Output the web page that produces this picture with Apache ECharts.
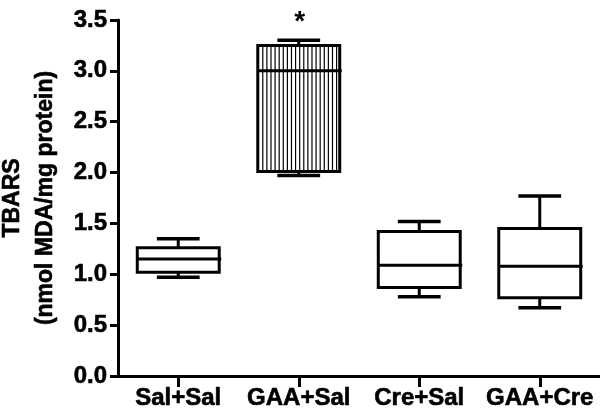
<!DOCTYPE html>
<html><head><meta charset="utf-8">
<script src="https://cdn.jsdelivr.net/npm/echarts@6/dist/echarts.min.js"></script>
<style>html,body{margin:0;padding:0;background:#fff}#c{width:600px;height:413px}</style>
</head><body><div id="c"></div>
<script>
const categories = ['Sal+Sal', 'GAA+Sal', 'Cre+Sal', 'GAA+Cre'];
const whiskerLow = [0.97, 1.97, 0.78, 0.67];
const q1 = [1.02, 2.01, 0.87, 0.77];
const median = [1.15, 3.00, 1.09, 1.08];
const q3 = [1.26, 3.25, 1.42, 1.45];
const whiskerHigh = [1.35, 3.30, 1.52, 1.77];
const hatched = [false, true, false, false];
const marks = ['', '*', '', ''];
const yMin = 0, yMax = 3.5, yStep = 0.5;
const yTitle = 'TBARS';
const yUnit = '(nmol MDA/mg protein)';

const FONT = "'Liberation Sans', Arial, sans-serif";
const chart = echarts.init(document.getElementById('c'), null, {renderer: 'canvas'});

const data = categories.map((c, i) => [i, whiskerLow[i], q1[i], median[i], q3[i], whiskerHigh[i]]);

function renderItem(params, api) {
  const i = api.value(0);
  const x = api.coord([i, 0])[0];
  const yLo = api.coord([i, api.value(1)])[1];
  const yQ1 = api.coord([i, api.value(2)])[1];
  const yMed = api.coord([i, api.value(3)])[1];
  const yQ3 = api.coord([i, api.value(4)])[1];
  const yHi = api.coord([i, api.value(5)])[1];
  const band = api.size([1, 0])[0];
  const bw = band * 0.68;
  const cw = band * 0.355;
  const l = x - bw / 2, r = x + bw / 2;
  const lw = 3;
  const ls = {stroke: '#000', lineWidth: lw};
  const children = [];
  children.push({type: 'rect', shape: {x: l, y: yQ3, width: bw, height: yQ1 - yQ3}, style: {fill: '#fff'}});
  if (hatched[i]) {
    const step = 4.1;
    for (let hx = l + 5; hx < r - 2; hx += step) {
      children.push({type: 'line', shape: {x1: hx, y1: yQ3, x2: hx, y2: yQ1}, style: {stroke: '#000', lineWidth: 1.2}});
    }
  }
  children.push({type: 'rect', shape: {x: l, y: yQ3, width: bw, height: yQ1 - yQ3}, style: {fill: 'none', stroke: '#000', lineWidth: lw}});
  children.push({type: 'line', shape: {x1: l, y1: yMed, x2: r + 2, y2: yMed}, style: ls});
  children.push({type: 'line', shape: {x1: x, y1: yQ3, x2: x, y2: yHi}, style: ls});
  children.push({type: 'line', shape: {x1: x, y1: yQ1, x2: x, y2: yLo}, style: ls});
  children.push({type: 'line', shape: {x1: x - cw / 2, y1: yHi, x2: x + cw / 2, y2: yHi}, style: {stroke: '#000', lineWidth: 3.5}});
  children.push({type: 'line', shape: {x1: x - cw / 2, y1: yLo, x2: x + cw / 2, y2: yLo}, style: {stroke: '#000', lineWidth: 3.5}});
  if (marks[i]) {
    children.push({type: 'text', style: {text: marks[i], x: x + 1, y: yHi - 4, align: 'center', verticalAlign: 'bottom', fill: '#000', font: "bold 28px " + FONT}});
  }
  return {type: 'group', children};
}

const heavy = {textBorderColor: '#000', textBorderWidth: 0.6};

chart.setOption({
  animation: false,
  backgroundColor: '#fff',
  grid: {left: 118, right: 0, top: 20, bottom: 37, outerBoundsMode: 'none'},
  xAxis: {
    type: 'category', data: categories, boundaryGap: true,
    axisLine: {show: true, lineStyle: {color: '#000', width: 3}},
    axisTick: {show: true, alignWithLabel: true, length: 11, lineStyle: {color: '#000', width: 3}},
    axisLabel: Object.assign({interval: 0, color: '#000', fontFamily: FONT, fontWeight: 'bold', fontSize: 24, margin: 10}, heavy),
    splitLine: {show: false}
  },
  yAxis: {
    type: 'value', min: yMin, max: yMax, interval: yStep,
    axisLine: {show: true, lineStyle: {color: '#000', width: 3}},
    axisTick: {show: true, length: 8, lineStyle: {color: '#000', width: 3}},
    axisLabel: Object.assign({color: '#000', fontFamily: FONT, fontWeight: 'bold', fontSize: 24, margin: 11, formatter: v => v.toFixed(1)}, heavy),
    splitLine: {show: false},
    name: yTitle + '\n' + yUnit,
    nameLocation: 'middle', nameRotate: 90, nameGap: 45,
    nameTextStyle: Object.assign({color: '#000', fontFamily: FONT, fontWeight: 'bold', fontSize: 23, lineHeight: 33}, heavy)
  },
  series: [{
    type: 'custom', renderItem, data, clip: false,
    encode: {x: 0, y: [1, 2, 3, 4, 5]}
  }]
});
</script></body></html>
